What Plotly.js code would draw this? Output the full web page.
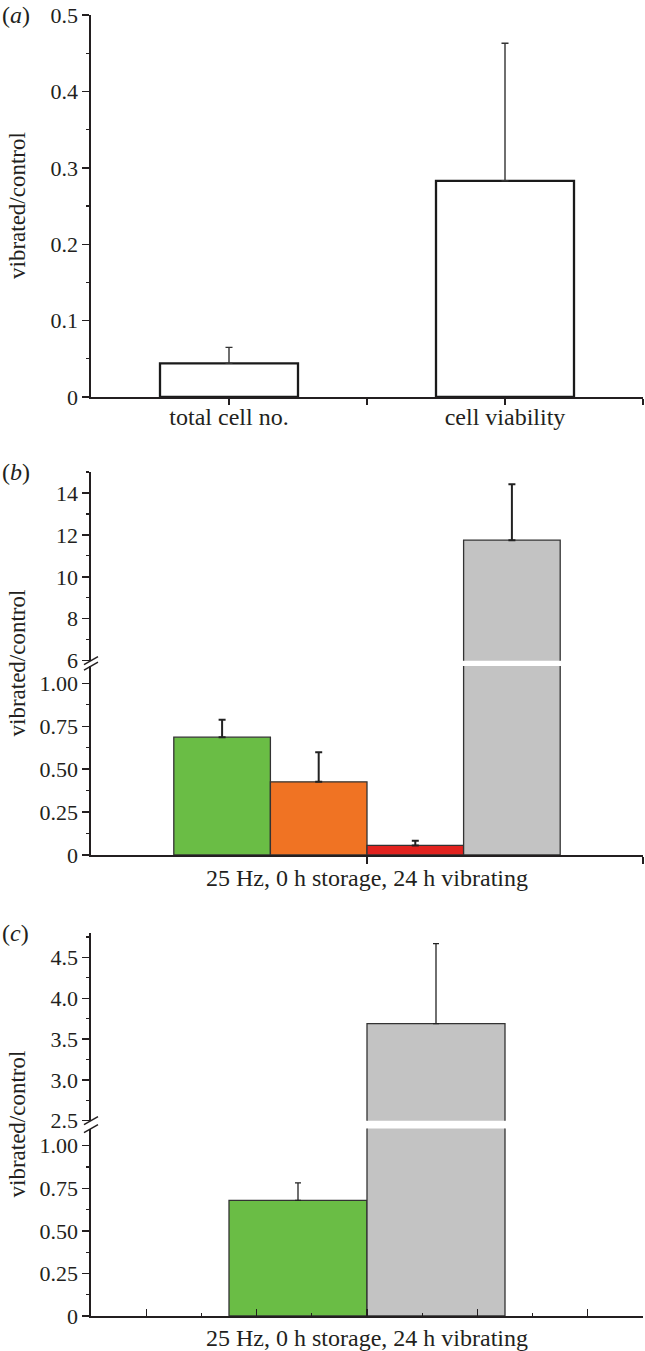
<!DOCTYPE html>
<html><head><meta charset="utf-8">
<script src="https://cdn.plot.ly/plotly-3.0.1.min.js"></script>
<style>
body{margin:0;background:#fff;width:645px;height:1351px;overflow:hidden;position:relative}
.p{position:absolute;left:0;width:645px}
</style></head><body>
<div id="pa" class="p" style="top:0;height:440px"></div>
<div id="pb" class="p" style="top:440px;height:460px"></div>
<div id="pc" class="p" style="top:900px;height:451px"></div>
<script>
// ---------- data ----------
// panel (a)
const catsA = ['total cell no.', 'cell viability'];
const valsA = [0.044, 0.283];
const errA  = [0.021, 0.180];

// panel (b)
const catB   = ['25 Hz, 0 h storage, 24 h vibrating'];
const namesB = ['group 1', 'group 2', 'group 3', 'group 4'];
const valsB  = [0.686, 0.426, 0.056, 11.75];
const errB   = [0.101, 0.173, 0.027, 2.67];

// panel (c)
const catC   = ['25 Hz, 0 h storage, 24 h vibrating'];
const namesC = ['group 1', 'group 4'];
const valsC  = [0.679, 3.69];
const errC   = [0.103, 0.98];

// ---------- styles ----------
const FONT = 'Liberation Serif, Times New Roman, serif';
const INK = '#231f20';
const FX = 24, FY = 22;
const colB = ['#6abd45', '#f07323', '#e2231f', '#c3c3c3'];
const colC = ['#6abd45', '#c3c3c3'];
const L = 91, R = 643, PW = R - L;

function baseAxis(extra, fs) {
  return Object.assign({
    showline: true, linecolor: INK, linewidth: 1.6, mirror: false,
    showgrid: false, zeroline: false, fixedrange: true,
    ticks: 'outside', tickcolor: INK, tickwidth: 1.4, ticklen: 7,
    tickfont: {family: FONT, size: fs || FY, color: INK}
  }, extra);
}
function xp(px) { return (px - L) / PW; }

// ---------- panel (a) ----------
(function () {
  const top = 0, H = 440, t = 15, bottomPx = 397;
  const trace = {
    type: 'bar', x: catsA.map((_, i) => i), y: valsA,
    marker: {color: '#ffffff', line: {color: '#1a1a1a', width: 2.3}},
    error_y: {type: 'data', array: errA, arrayminus: catsA.map(() => 0), symmetric: false,
              color: '#333', thickness: 1.4, width: 3.5},
    showlegend: false, hoverinfo: 'skip'
  };
  const layout = {
    width: 645, height: H, margin: {l: L, r: 645 - R, t: t, b: H - bottomPx},
    paper_bgcolor: 'rgba(0,0,0,0)', plot_bgcolor: 'rgba(0,0,0,0)',
    bargap: 0.5, showlegend: false,
    xaxis: baseAxis({range: [-0.5, 1.5], tickmode: 'array', tickvals: [0, 0.5, 1, 1.5],
                     ticktext: [catsA[0], '', catsA[1], ''], ticklen: 6, ticklabelstandoff: -8}, FX),
    yaxis: baseAxis({range: [0, 0.5], tick0: 0, dtick: 0.1,
                     minor: {dtick: 0.05, ticks: 'outside', ticklen: 3.5, tickcolor: INK, tickwidth: 1.2}}),
    annotations: [
      {xref: 'paper', yref: 'paper', x: xp(0), y: 1, xanchor: 'left', yanchor: 'middle',
       text: '(<i>a</i>)', showarrow: false, font: {family: FONT, size: FX, color: INK}},
      {xref: 'paper', yref: 'paper', x: xp(17), y: 0.5, xanchor: 'center', yanchor: 'middle',
       textangle: -90, text: 'vibrated/control', showarrow: false, font: {family: FONT, size: 23, color: INK}}
    ]
  };
  Plotly.newPlot('pa', [trace], layout, {staticPlot: true});
})();

// ---------- broken-axis panels ----------
function brokenPanel(id, opt) {
  const {top, H, tPx, bottomPx, lowTopPx, upBotPx, cats, names, vals, errs, cols,
         lowRange, upRange, lowTicks, lowText, lowMinor, upDtick, upTick0, upMinor, upFormat,
         bargap, label, errW, errT, xaxExtra} = opt;
  const ph = bottomPx - top - tPx;
  const lowDom = [0, (bottomPx - lowTopPx) / ph];
  const upDom = [(bottomPx - upBotPx) / ph, 1];
  const traces = [];
  ['y', 'y2'].forEach(ax => {
    names.forEach((n, i) => {
      traces.push({
        type: 'bar', name: n, x: cats.map(() => 0), y: [vals[i]], xaxis: 'x', yaxis: ax,
        marker: {color: cols[i], line: {color: '#333333', width: 1.3}},
        error_y: {type: 'data', array: [errs[i]], arrayminus: [0], symmetric: false,
                  color: '#222', thickness: errT, width: errW},
        showlegend: false, hoverinfo: 'skip'
      });
    });
  });
  const py = p => (bottomPx - p) / ph;
  const bx0 = xp(84), bx1 = xp(98);
  const shapes = [
    {type: 'line', xref: 'paper', yref: 'paper', x0: bx0, x1: bx1,
     y0: py(upBotPx + 4), y1: py(upBotPx - 4), line: {color: INK, width: 1.4}},
    {type: 'line', xref: 'paper', yref: 'paper', x0: bx0, x1: bx1,
     y0: py(lowTopPx + 4), y1: py(lowTopPx - 4), line: {color: INK, width: 1.4}}
  ];
  const layout = {
    width: 645, height: H, margin: {l: L, r: 645 - R, t: tPx, b: H - (bottomPx - top)},
    paper_bgcolor: 'rgba(0,0,0,0)', plot_bgcolor: 'rgba(0,0,0,0)',
    barmode: 'group', bargap: bargap, bargroupgap: 0, showlegend: false,
    xaxis: baseAxis(Object.assign({range: [-0.5, 0.5], anchor: 'y', tickmode: 'array'}, xaxExtra), FX),
    yaxis: baseAxis({domain: lowDom, range: lowRange, tickmode: 'array', tickvals: lowTicks, ticktext: lowText,
                     minor: {tickvals: lowMinor, ticks: 'outside', ticklen: 3.5, tickcolor: INK, tickwidth: 1.2}}),
    yaxis2: baseAxis({domain: upDom, range: upRange, anchor: 'x', tick0: upTick0, dtick: upDtick, tickformat: upFormat,
                      minor: {dtick: upMinor, ticks: 'outside', ticklen: 3.5, tickcolor: INK, tickwidth: 1.2}}),
    shapes: shapes,
    annotations: [
      {xref: 'paper', yref: 'paper', x: xp(0), y: 1, xanchor: 'left', yanchor: 'middle',
       text: label, showarrow: false, font: {family: FONT, size: FX, color: INK}},
      {xref: 'paper', yref: 'paper', x: xp(17), y: 0.5, xanchor: 'center', yanchor: 'middle',
       textangle: -90, text: 'vibrated/control', showarrow: false, font: {family: FONT, size: 23, color: INK}}
    ]
  };
  Plotly.newPlot(id, traces, layout, {staticPlot: true});
}

brokenPanel('pb', {
  top: 440, H: 460, tPx: 31.7, bottomPx: 855.3, lowTopPx: 666.1, upBotPx: 660.7,
  cats: catB, names: namesB, vals: valsB, errs: errB, cols: colB,
  lowRange: [0, 1.1], lowTicks: [0, 0.25, 0.5, 0.75, 1.0], lowText: ['0', '0.25', '0.50', '0.75', '1.00'],
  lowMinor: [0.125, 0.375, 0.625, 0.875],
  upRange: [6, 15], upTick0: 6, upDtick: 2, upMinor: 1, upFormat: '',
  bargap: 0.3, label: '(<i>b</i>)', errW: 3.5, errT: 2,
  xaxExtra: {tickvals: [0, 0.5], ticktext: [catB[0], ''], ticks: 'outside', ticklen: 7, ticklabelstandoff: -6}
});

brokenPanel('pc', {
  top: 900, H: 451, tPx: 33, bottomPx: 1316, lowTopPx: 1128.6, upBotPx: 1120.7,
  cats: catC, names: namesC, vals: valsC, errs: errC, cols: colC,
  lowRange: [0, 1.1], lowTicks: [0, 0.25, 0.5, 0.75, 1.0], lowText: ['0', '0.25', '0.50', '0.75', '1.00'],
  lowMinor: [0.125, 0.375, 0.625, 0.875],
  upRange: [2.5, 4.8], upTick0: 2.5, upDtick: 0.5, upMinor: 0.25, upFormat: '.1f',
  bargap: 0.5, label: '(<i>c</i>)', errW: 3, errT: 1.3,
  xaxExtra: {tickvals: [-0.4, -0.2, 0, 0.2, 0.4], ticktext: ['', '', catC[0], '', ''], ticks: 'inside', ticklen: 7,
             minor: {tickvals: [-0.3, -0.1, 0.1, 0.3], ticks: 'inside', ticklen: 3.5, tickcolor: INK, tickwidth: 1.2}}
});
</script>
</body></html>
